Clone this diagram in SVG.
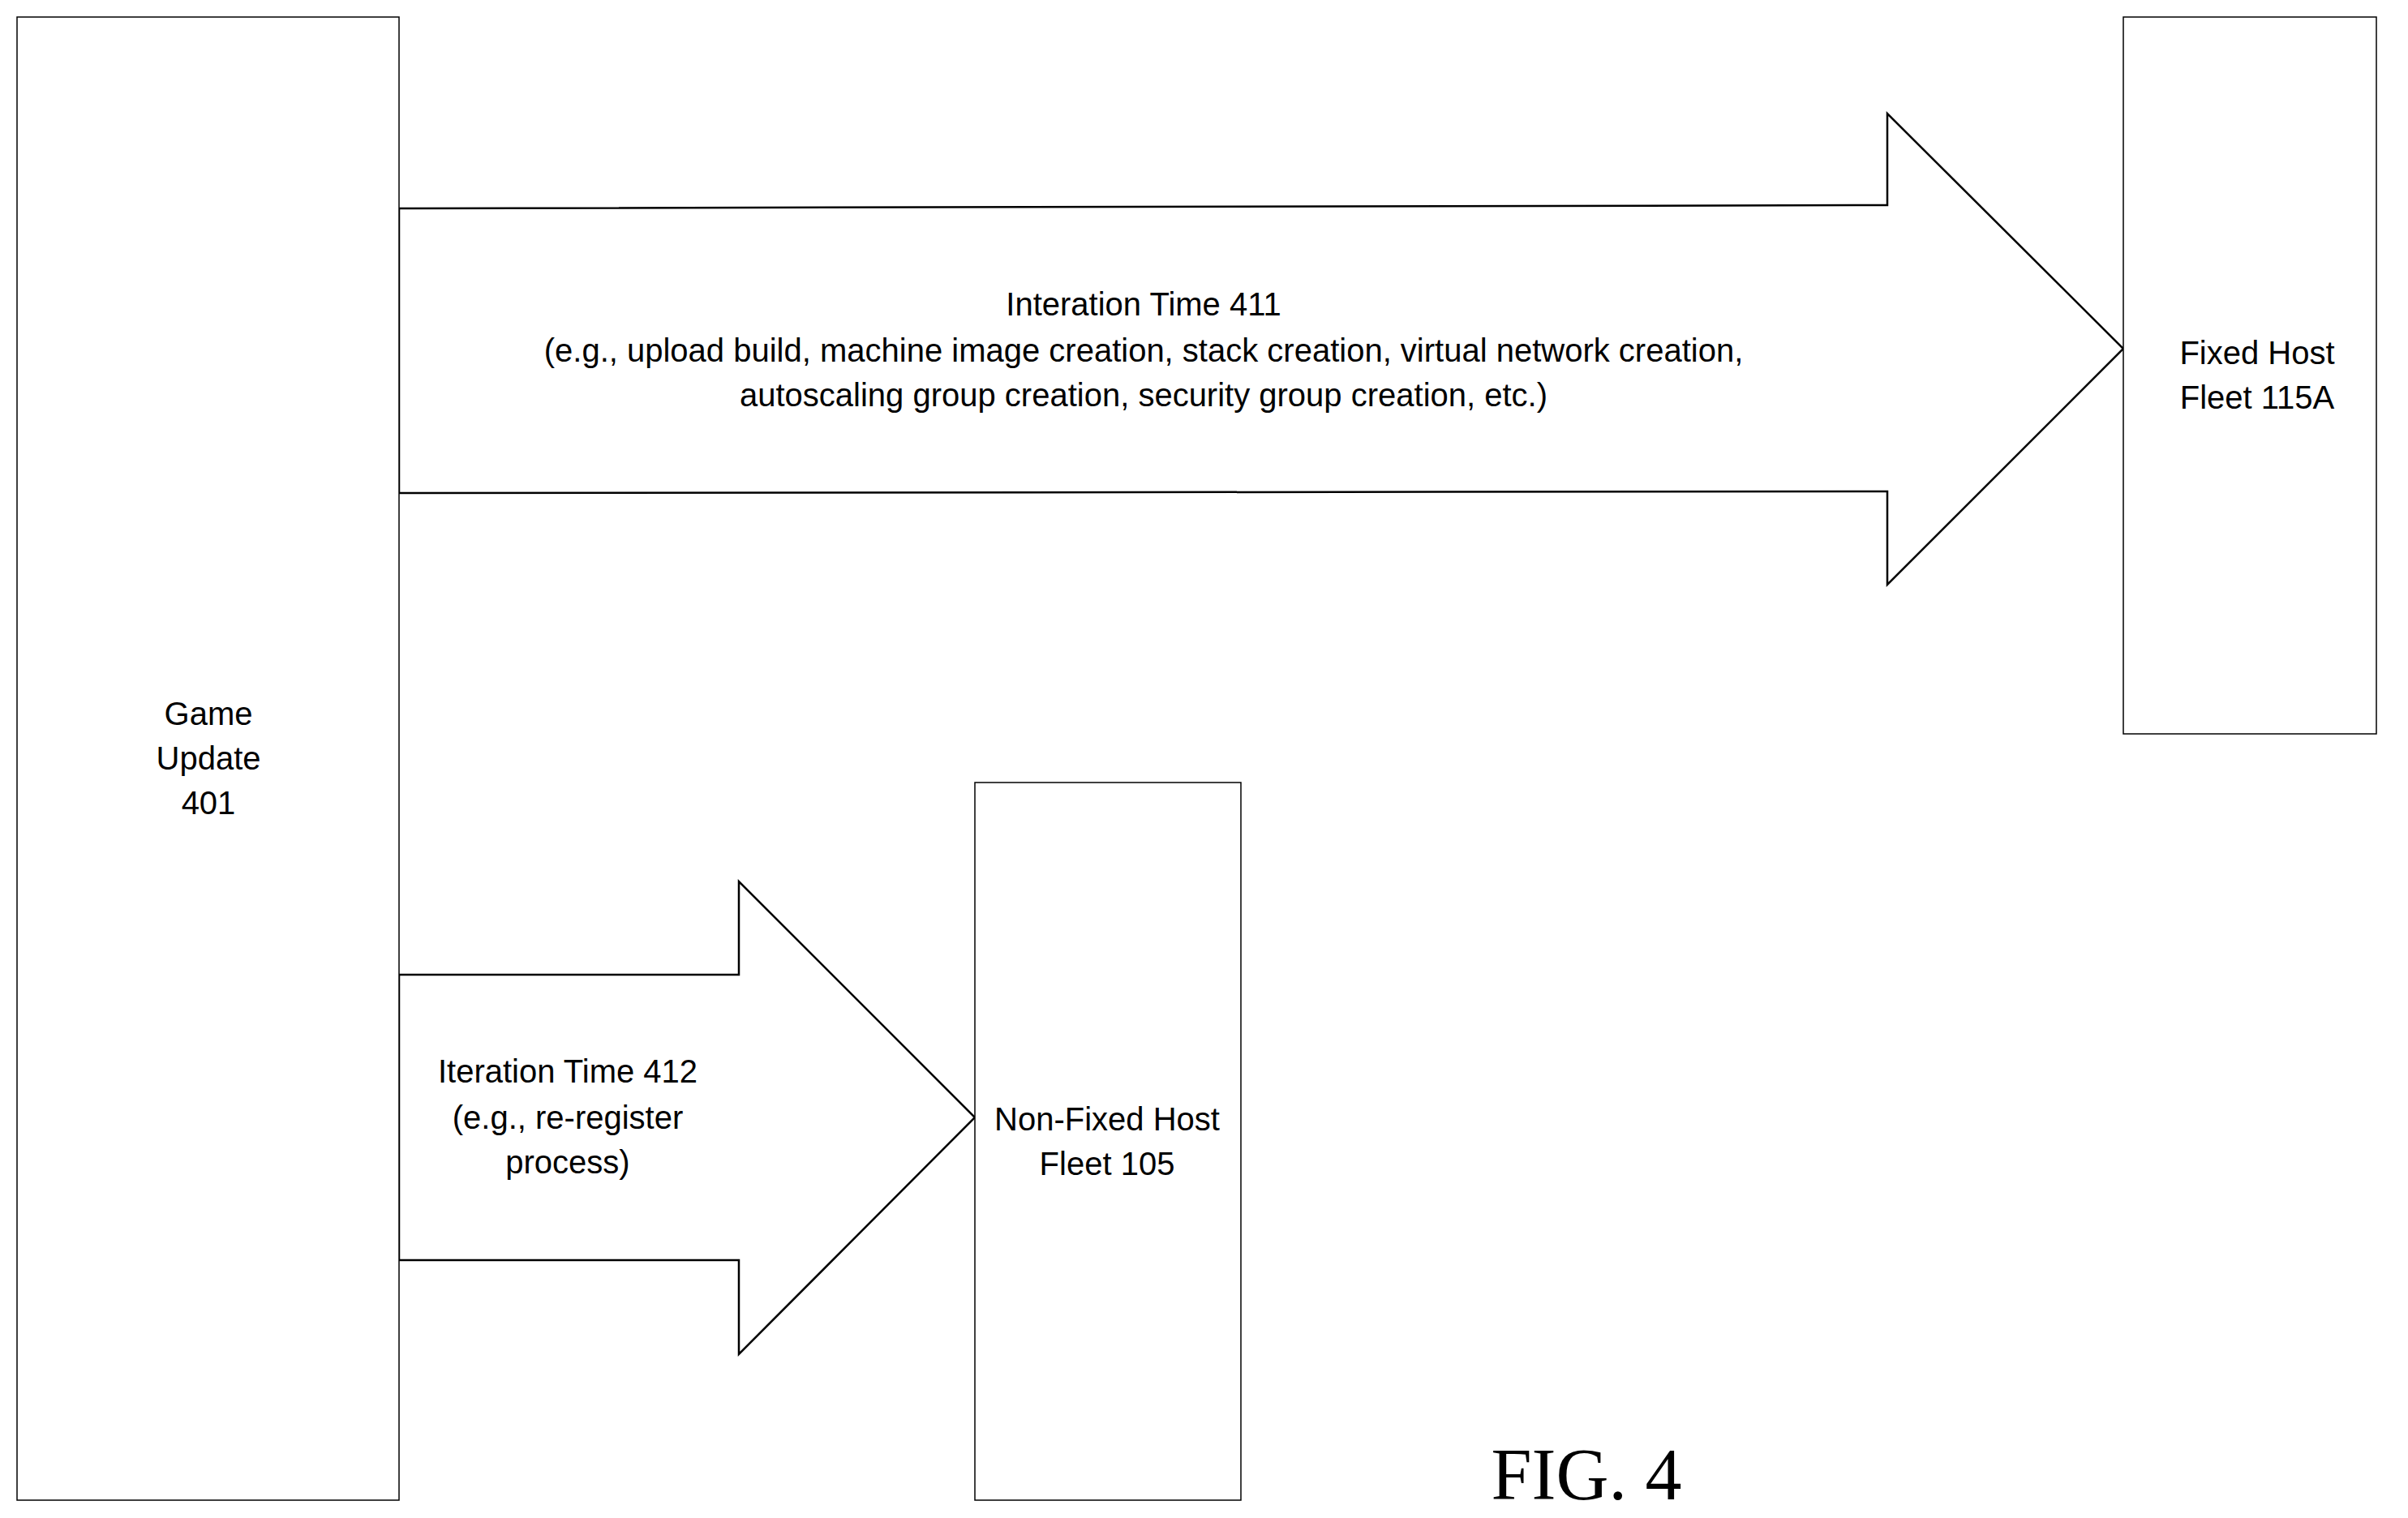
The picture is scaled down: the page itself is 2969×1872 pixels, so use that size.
<svg xmlns="http://www.w3.org/2000/svg" width="2969" height="1872" viewBox="0 0 2969 1872">
<style>
.b{fill:#fff;stroke:#000;stroke-width:1.5}
.a{fill:#fff;stroke:#000;stroke-width:2.5}
text{font-family:"Liberation Sans",Arial,sans-serif;font-size:40px;text-anchor:middle;dominant-baseline:central;fill:#000}
</style>
<rect width="2969" height="1872" fill="#fff"/>
<g id="connectors">
<polygon class="a" points="492,257 2327,253 2327,140 2618,430 2327,721 2327,606 492,608"/>
<polygon class="a" points="492,1202 911,1202 911,1087 1202,1378 911,1670 911,1554 492,1554"/>
<text x="1410" y="375">Interation Time 411</text>
<text x="1410" y="432">(e.g., upload build, machine image creation, stack creation, virtual network creation,</text>
<text x="1410" y="487">autoscaling group creation, security group creation, etc.)</text>
<text x="700" y="1321">Iteration Time 412</text>
<text x="700" y="1378">(e.g., re-register</text>
<text x="700" y="1433">process)</text>
</g>
<g id="game-update">
<rect class="b" x="21" y="21" width="471" height="1829"/>
<text x="257" y="880">Game</text>
<text x="257" y="935">Update</text>
<text x="257" y="990">401</text>
</g>
<g id="fixed-host">
<rect class="b" x="2618" y="21" width="312" height="884"/>
<text x="2783" y="435">Fixed Host</text>
<text x="2783" y="490">Fleet 115A</text>
</g>
<g id="non-fixed-host">
<rect class="b" x="1202" y="965" width="328" height="885"/>
<text x="1365" y="1380">Non-Fixed Host</text>
<text x="1365" y="1435">Fleet 105</text>
</g>
<text x="1956" y="1818" style="font-family:'Liberation Serif','Times New Roman',serif;font-size:90px">FIG. 4</text>
</svg>
